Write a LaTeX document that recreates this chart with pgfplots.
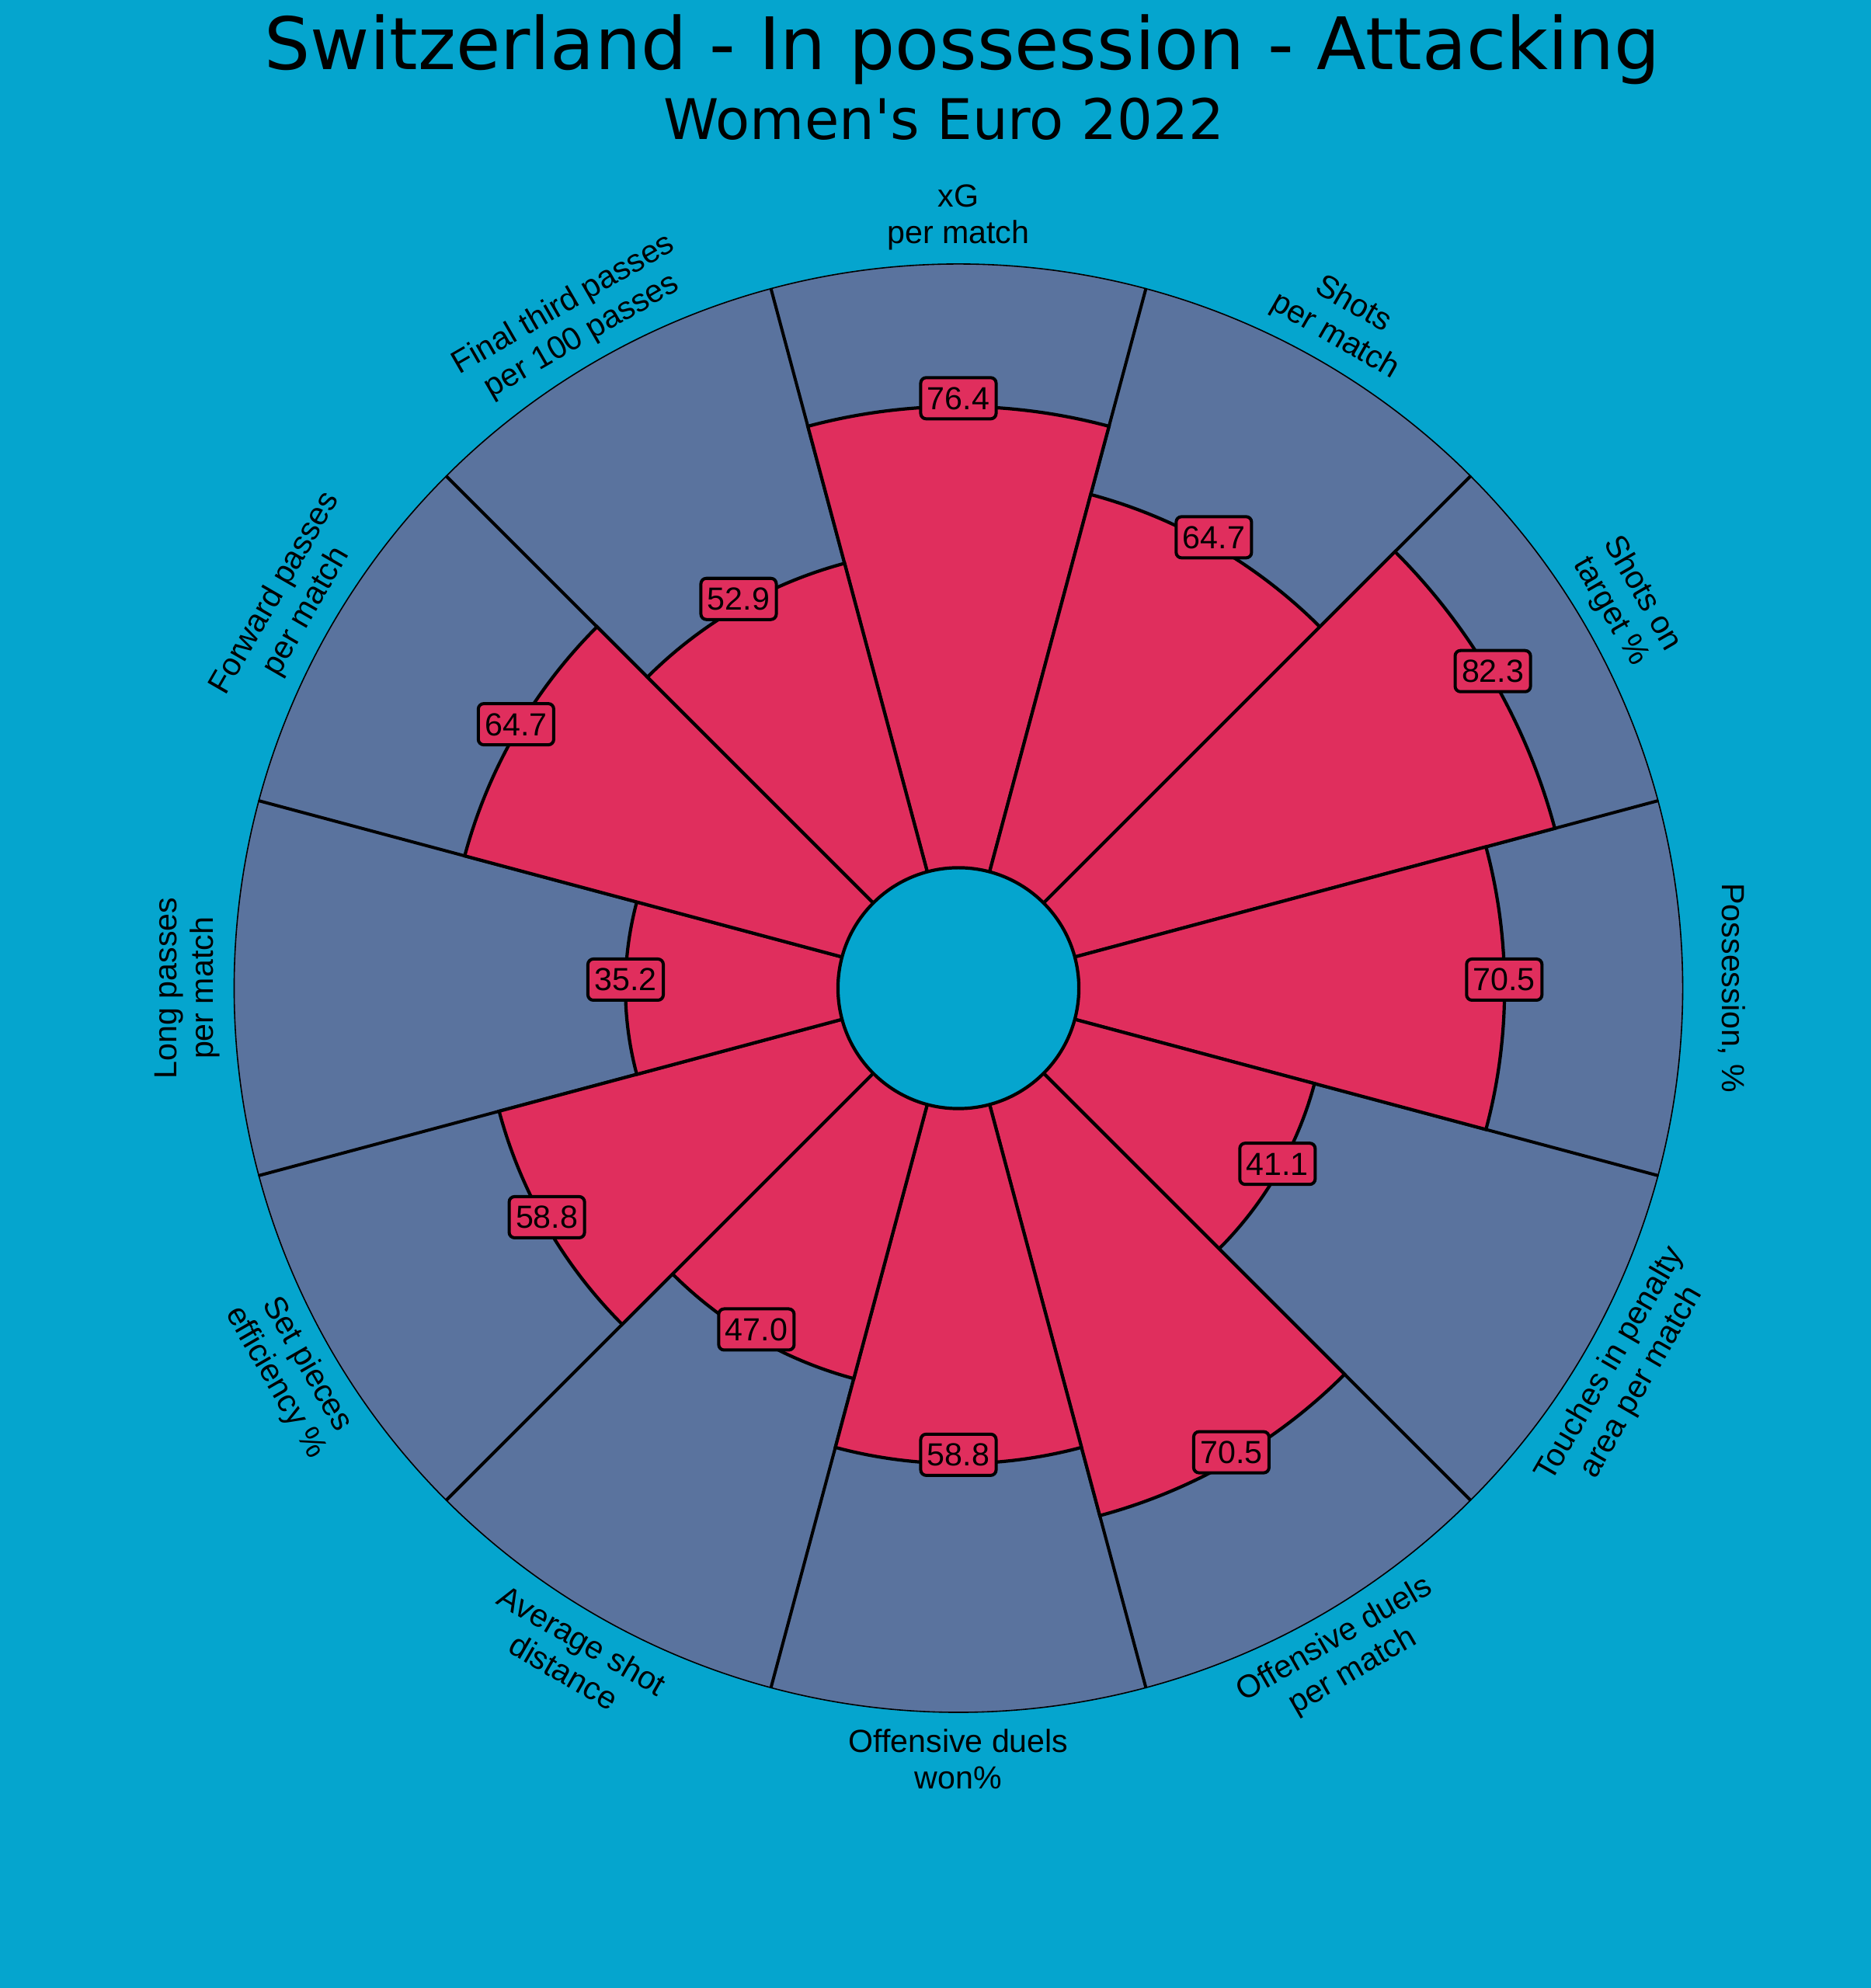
\documentclass[border=0pt]{standalone}
\usepackage{pgfplots}
\pgfplotsset{compat=1.18}
\usepackage{pgfplotstable}
\usepackage{fontspec}
\setmainfont{Liberation Sans}
\newfontfamily\titlefont{DejaVu Sans}[Ligatures=TeXOff]
\definecolor{bgc}{RGB}{5,165,206}
\definecolor{slicec}{RGB}{90,115,158}
\definecolor{barc}{RGB}{224,46,93}

\pgfplotstableread{
ang val
90 76.4
60 64.7
30 82.3
0 70.5
-30 41.1
-60 70.5
-90 58.8
-120 47.0
-150 58.8
180 35.2
150 64.7
120 52.9
}\pizza

\tikzset{catlab/.style={align=center, inner sep=0pt, text=black, font=\fontsize{11.7pt}{13.4pt}\selectfont}}

\begin{document}
\begin{tikzpicture}
\begin{axis}[
  x=0.01cm, y=0.01cm,
  xmin=-1234, xmax=1175, ymin=-1287.5, ymax=1272.5,
  axis line style={draw=none}, ticks=none,
  axis background/.style={fill=bgc},
  clip=false,
]
% background slices
\addplot[scatter, only marks, mark=*, mark size=0pt, mark options={draw=none, fill=none},
  visualization depends on={\thisrow{ang} \as \ang},
  scatter/@pre marker code/.code={%
    \pgfmathsetmacro\aA{\ang-15}\pgfmathsetmacro\aB{\ang+15}%
    \filldraw[fill=slicec, draw=black, line width=0.016cm] (0pt,0pt) -- (\aA:9.32cm) arc[start angle=\aA, end angle=\aB, radius=9.32cm] -- cycle;
  },
  scatter/@post marker code/.code={}]
  table[x expr=0, y expr=0] {\pizza};
% separators between slices
\addplot[scatter, only marks, mark=*, mark size=0pt, mark options={draw=none, fill=none},
  visualization depends on={\thisrow{ang} \as \ang},
  scatter/@pre marker code/.code={%
    \pgfmathsetmacro\aA{\ang-15}%
    \draw[black, line width=0.04cm] (0pt,0pt) -- (\aA:9.32cm);
  },
  scatter/@post marker code/.code={}]
  table[x expr=0, y expr=0] {\pizza};
% value slices
\addplot[scatter, only marks, mark=*, mark size=0pt, mark options={draw=none, fill=none},
  visualization depends on={\thisrow{ang} \as \ang},
  visualization depends on={\thisrow{val} \as \val},
  scatter/@pre marker code/.code={%
    \pgfmathsetmacro\aA{\ang-15}\pgfmathsetmacro\aB{\ang+15}%
    \pgfmathsetmacro\rr{1.55+0.0777*\val}%
    \filldraw[fill=barc, draw=black, line width=0.042cm] (0pt,0pt) -- (\aA:\rr cm) arc[start angle=\aA, end angle=\aB, radius=\rr cm] -- cycle;
  },
  scatter/@post marker code/.code={}]
  table[x expr=0, y expr=0] {\pizza};
% inner circle
\addplot[only marks, mark=*, mark size=44.1pt, mark options={fill=bgc, draw=black, line width=0.042cm}] coordinates {(0,0)};
% value labels
\addplot[only marks, mark=*, mark size=0pt, mark options={draw=none, fill=none},
  point meta=explicit symbolic,
  nodes near coords={\pgfplotspointmeta},
  every node near coord/.style={anchor=center, yshift=0.11cm, fill=barc, draw=black, line width=0.04cm, rounded corners=0.07cm, text=black, font=\fontsize{11.7pt}{13pt}\selectfont, inner xsep=0.085cm, inner ysep=0.12cm, text height=0.29cm, text depth=0cm}]
  table[x expr={(155+7.77*\thisrow{val})*cos(\thisrow{ang})}, y expr={(155+7.77*\thisrow{val})*sin(\thisrow{ang})}, meta=val] {\pizza};
% category labels
\path (axis cs:0,0) ++(90:9.92cm) node[catlab, rotate=0] {xG\\per match};
\path (axis cs:0,0) ++(60:9.92cm) node[catlab, rotate=-30] {Shots\\per match};
\path (axis cs:0,0) ++(30:9.92cm) node[catlab, rotate=-60] {Shots on\\target \%};
\path (axis cs:0,0) ++(0:9.95cm) node[catlab, rotate=-90] {Possession, \%};
\path (axis cs:0,0) ++(-30:9.92cm) node[catlab, rotate=60] {Touches in penalty\\area per match};
\path (axis cs:0,0) ++(-60:9.92cm) node[catlab, rotate=30] {Offensive duels\\per match};
\path (axis cs:0,0) ++(-90:9.92cm) node[catlab, rotate=0] {Offensive duels\\won\%};
\path (axis cs:0,0) ++(-120:9.92cm) node[catlab, rotate=-30] {Average shot\\distance};
\path (axis cs:0,0) ++(-150:9.92cm) node[catlab, rotate=-60] {Set pieces\\efficiency \%};
\path (axis cs:0,0) ++(180:9.92cm) node[catlab, rotate=90] {Long passes\\per match};
\path (axis cs:0,0) ++(150:9.92cm) node[catlab, rotate=60] {Forward passes\\per match};
\path (axis cs:0,0) ++(120:9.92cm) node[catlab, rotate=30] {Final third passes\\per 100 passes};
% titles
\node[anchor=base, inner sep=0pt, text=black, font=\titlefont\fontsize{26.5pt}{30pt}\selectfont] at (axis cs:5,1182.5) {Switzerland - In possession - Attacking};
\node[anchor=base, inner sep=0pt, text=black, font=\titlefont\fontsize{20.5pt}{24pt}\selectfont] at (axis cs:-18.5,1092.5) {Women's Euro 2022};
\end{axis}
\pgfresetboundingbox
\useasboundingbox (current axis.south west) rectangle (current axis.north east);
\end{tikzpicture}
\end{document}
